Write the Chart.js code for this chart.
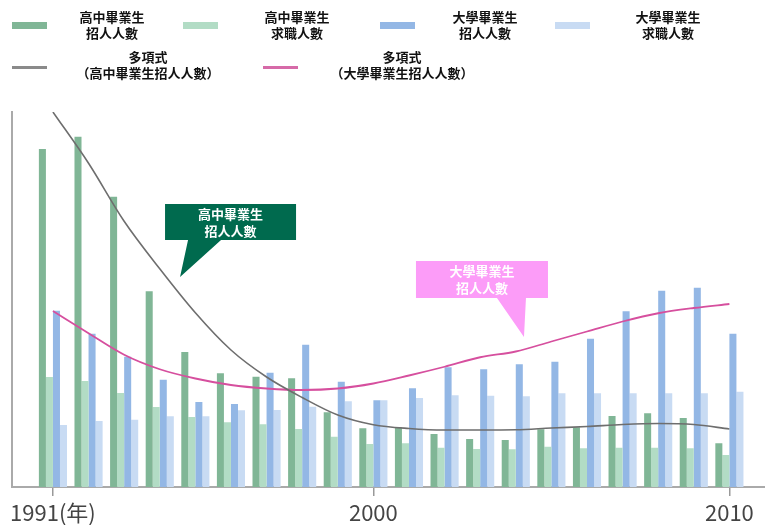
<!DOCTYPE html>
<html>
<head>
<meta charset="utf-8">
<script src="https://cdn.jsdelivr.net/npm/chart.js@4/dist/chart.umd.min.js"></script>
<style>
  body { margin: 0; background: #fff; }
  #wrap { position: relative; width: 765px; height: 525px; }
  #myChart { position: absolute; left: 0; top: 0; }
  .lg { position: absolute; font: bold 13px "Noto Sans CJK TC", sans-serif; color: #111; text-align: center; line-height: 16px; }
  .sw { position: absolute; width: 35px; }
</style>
</head>
<body>
<div id="wrap">
  <canvas id="myChart" width="765" height="525"></canvas>
  <!-- 圖例 -->
  <div class="sw" style="left:12px;top:22px;height:7px;background:#80b696"></div>
  <div class="lg" style="left:62px;top:9px;width:100px">高中畢業生<br>招人人數</div>
  <div class="sw" style="left:183px;top:22px;height:7px;background:#b2dcc5"></div>
  <div class="lg" style="left:247px;top:9px;width:100px">高中畢業生<br>求職人數</div>
  <div class="sw" style="left:380px;top:22px;height:7px;background:#93b7e5"></div>
  <div class="lg" style="left:435px;top:9px;width:100px">大學畢業生<br>招人人數</div>
  <div class="sw" style="left:555px;top:22px;height:7px;background:#c8dbf3"></div>
  <div class="lg" style="left:618px;top:9px;width:100px">大學畢業生<br>求職人數</div>
  <div class="sw" style="left:12px;top:66px;height:3px;background:#8a8a8a"></div>
  <div class="lg" style="left:68px;top:49px;width:160px">多項式<br>（高中畢業生招人人數）</div>
  <div class="sw" style="left:263px;top:66px;height:3px;background:#d66aa8"></div>
  <div class="lg" style="left:322px;top:49px;width:160px">多項式<br>（大學畢業生招人人數）</div>
</div>
<script>
// 年份
const years = [1991, 1992, 1993, 1994, 1995, 1996, 1997, 1998, 1999, 2000,
               2001, 2002, 2003, 2004, 2005, 2006, 2007, 2008, 2009, 2010];
const tickYears = [1991, 2000, 2010];

// 高中畢業生 招人 / 求職
const hsOffers = [135.2, 140.1, 116.1, 78.3, 54.0, 45.5, 44.1, 43.5, 29.9, 23.5,
                  23.9, 21.2, 19.2, 18.8, 23.1, 23.9, 28.4, 29.5, 27.6, 17.5];
const hsSeekers = [44.0, 42.4, 37.6, 32.0, 28.0, 25.9, 25.1, 23.2, 20.1, 17.2,
                   17.5, 15.7, 15.2, 15.1, 16.1, 15.5, 15.7, 15.7, 15.5, 12.8];
// 大學畢業生 招人 / 求職
const uniOffers = [70.5, 61.3, 52.1, 42.9, 34.0, 33.2, 45.7, 56.9, 42.1, 34.7,
                   39.5, 47.9, 47.1, 49.1, 50.1, 59.3, 70.3, 78.5, 79.7, 61.3];
const uniSeekers = [24.8, 26.4, 26.9, 28.3, 28.3, 30.7, 30.8, 32.1, 34.3, 34.7,
                    35.6, 36.7, 36.5, 36.3, 37.5, 37.5, 37.5, 37.5, 37.5, 38.1];
// 多項式趨勢線
const hsTrend = [150.0, 129.5, 106.3, 87.3, 69.7, 54.8, 44.0, 35.8, 28.8, 24.9,
                 23.4, 22.8, 22.8, 22.9, 23.6, 24.2, 25.0, 25.4, 25.0, 23.2];
const uniTrend = [70.4, 61.5, 52.9, 47.1, 43.4, 40.8, 39.4, 38.8, 39.4, 41.4,
                  44.6, 48.1, 51.9, 54.2, 58.2, 62.2, 66.2, 69.5, 71.6, 73.2];

const pts = arr => arr.map((v, i) => ({ x: years[i], y: v }));

// 說明框
const callouts = [
  { x: 1994.57, y: 84, text: ['高中畢業生', '招人人數'], color: '#006a4e',
    box: [-15, -73, 116, -37], tail: [8, 41] },
  { x: 2004.23, y: 60, text: ['大學畢業生', '招人人數'], color: '#fc9cf8',
    box: [-108, -76, 24, -39], tail: [-27, 2] }
];

const calloutPlugin = {
  id: 'callouts',
  afterDatasetsDraw(chart) {
    const c = chart.ctx;
    const xs = chart.scales.x, ys = chart.scales.y;
    callouts.forEach(o => {
      const px = xs.getPixelForValue(o.x), py = ys.getPixelForValue(o.y);
      const [l, t, r, b] = o.box;
      c.save();
      c.fillStyle = o.color;
      c.beginPath();
      c.moveTo(px + l, py + t);
      c.lineTo(px + r, py + t);
      c.lineTo(px + r, py + b);
      c.lineTo(px + o.tail[1], py + b);
      c.lineTo(px, py);
      c.lineTo(px + o.tail[0], py + b);
      c.lineTo(px + l, py + b);
      c.closePath();
      c.fill();
      c.fillStyle = '#fff';
      c.font = 'bold 13px "Noto Sans CJK TC", sans-serif';
      c.textAlign = 'center';
      c.textBaseline = 'middle';
      const cx = px + (l + r) / 2, cy = py + (t + b) / 2;
      c.fillText(o.text[0], cx, cy - 8);
      c.fillText(o.text[1], cx, cy + 9);
      c.restore();
    });
  }
};

const ctx = document.getElementById('myChart');

new Chart(ctx, {
  type: 'bar',
  data: {
    datasets: [
      { type: 'line', label: '多項式（高中畢業生招人人數）', data: pts(hsTrend), borderColor: '#6e6e6e',
        borderWidth: 1.6, pointRadius: 0, cubicInterpolationMode: 'monotone', order: 0 },
      { type: 'line', label: '多項式（大學畢業生招人人數）', data: pts(uniTrend), borderColor: '#d64f9e',
        borderWidth: 1.8, pointRadius: 0, cubicInterpolationMode: 'monotone', order: 0 },
      { label: '高中畢業生招人人數', data: pts(hsOffers), backgroundColor: '#80b696', order: 1 },
      { label: '高中畢業生求職人數', data: pts(hsSeekers), backgroundColor: '#b2dcc5', order: 1 },
      { label: '大學畢業生招人人數', data: pts(uniOffers), backgroundColor: '#93b7e5', order: 1 },
      { label: '大學畢業生求職人數', data: pts(uniSeekers), backgroundColor: '#c8dbf3', order: 1 }
    ]
  },
  options: {
    responsive: false,
    animation: false,
    categoryPercentage: 0.79,
    barPercentage: 1,
    layout: { padding: { top: 112, left: 12, right: 0, bottom: 0 } },
    plugins: { legend: { display: false }, tooltip: { enabled: false } },
    scales: {
      x: {
        type: 'linear',
        min: 1989.85,
        max: 2011,
        offset: false,
        grid: { offset: false, drawOnChartArea: false, drawTicks: true, tickLength: 9, color: '#999', lineWidth: 1.5 },
        border: { display: true, color: '#aaa', width: 2 },
        afterBuildTicks: s => { s.ticks = tickYears.map(v => ({ value: v })); },
        afterFit: s => { s.height = 38; },
        ticks: {
          padding: 6,
          color: '#444',
          font: { family: '"Noto Sans CJK TC", sans-serif', size: 22, lineHeight: 1 },
          callback: v => v === 1991 ? v + '(年)' : String(v),
          maxRotation: 0,
          autoSkip: false
        }
      },
      y: {
        min: 0,
        max: 150,
        ticks: { display: false },
        grid: { display: false, drawTicks: false },
        border: { display: true, color: '#aaa', width: 2 }
      }
    }
  },
  plugins: [calloutPlugin]
});
</script>
</body>
</html>
